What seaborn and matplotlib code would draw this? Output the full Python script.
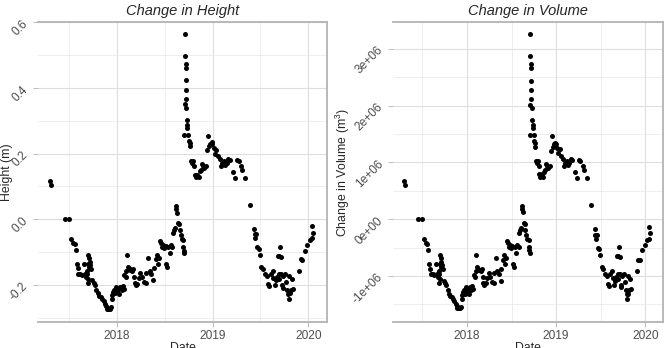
import pandas as pd
import matplotlib
matplotlib.use("Agg")
import matplotlib.pyplot as plt
import seaborn as sns
from matplotlib.ticker import MultipleLocator, FixedLocator

# dates en annees decimales
dates = [
    2017.295, 2017.312, 2017.452, 2017.497, 2017.522, 2017.539, 2017.557, 2017.567, 2017.581, 2017.588,
    2017.595, 2017.616, 2017.637, 2017.651, 2017.661, 2017.679, 2017.689, 2017.696, 2017.700, 2017.707,
    2017.714, 2017.721, 2017.707, 2017.731, 2017.693, 2017.700, 2017.686, 2017.742, 2017.756, 2017.766,
    2017.784, 2017.798, 2017.812, 2017.829, 2017.846, 2017.860, 2017.874, 2017.888, 2017.895, 2017.909,
    2017.923, 2017.937, 2017.951, 2017.944, 2017.958, 2017.972, 2017.979, 2017.993, 2018.000, 2018.014,
    2018.021, 2018.035, 2018.049, 2018.063, 2018.070, 2018.077, 2018.091, 2018.098, 2018.105, 2018.115,
    2018.126, 2018.140, 2018.154, 2018.168, 2018.178, 2018.185, 2018.195, 2018.209, 2018.230, 2018.244,
    2018.258, 2018.279, 2018.300, 2018.307, 2018.325, 2018.342, 2018.360, 2018.377, 2018.384, 2018.405,
    2018.419, 2018.426, 2018.440, 2018.447, 2018.461, 2018.468, 2018.482, 2018.496, 2018.510, 2018.517,
    2018.524, 2018.538, 2018.551, 2018.565, 2018.579, 2018.586, 2018.593, 2018.604, 2018.614, 2018.621,
    2018.628, 2018.639, 2018.649, 2018.656, 2018.667, 2018.677, 2018.691, 2018.691, 2018.698, 2018.702,
    2018.709, 2018.712, 2018.716, 2018.716, 2018.716, 2018.719, 2018.719, 2018.712, 2018.726, 2018.733,
    2018.736, 2018.736, 2018.705, 2018.747, 2018.754, 2018.761, 2018.768, 2018.778, 2018.789, 2018.796,
    2018.803, 2018.813, 2018.824, 2018.838, 2018.852, 2018.866, 2018.873, 2018.887, 2018.901, 2018.914,
    2018.928, 2018.942, 2018.953, 2018.963, 2018.977, 2018.988, 2018.998, 2019.012, 2019.023, 2019.040,
    2019.058, 2019.075, 2019.086, 2019.099, 2019.117, 2019.131, 2019.145, 2019.162, 2019.180, 2019.208,
    2019.232, 2019.257, 2019.271, 2019.298, 2019.312, 2019.340, 2019.389, 2019.431, 2019.438, 2019.452,
    2019.445, 2019.466, 2019.480, 2019.494, 2019.508, 2019.529, 2019.550, 2019.564, 2019.581, 2019.592,
    2019.606, 2019.627, 2019.634, 2019.651, 2019.661, 2019.675, 2019.689, 2019.696, 2019.710, 2019.721,
    2019.731, 2019.738, 2019.686, 2019.696, 2019.703, 2019.714, 2019.756, 2019.766, 2019.780, 2019.791,
    2019.794, 2019.808, 2019.815, 2019.801, 2019.825, 2019.843, 2019.906, 2019.920, 2019.934, 2019.965,
    2019.989, 2020.017, 2020.035, 2020.035, 2020.052,
]

# variation de hauteur (m)
height = [
    0.117, 0.105, 0.0, 0.0, -0.061, -0.073, -0.076, -0.094, -0.137, -0.150,
    -0.167, -0.167, -0.170, -0.137, -0.167, -0.175, -0.167, -0.137, -0.109, -0.119,
    -0.129, -0.140, -0.145, -0.153, -0.194, -0.183, -0.157, -0.186, -0.194, -0.201,
    -0.214, -0.226, -0.234, -0.237, -0.242, -0.249, -0.257, -0.265, -0.272, -0.272,
    -0.272, -0.267, -0.242, -0.231, -0.221, -0.214, -0.226, -0.206, -0.218, -0.211,
    -0.228, -0.206, -0.216, -0.204, -0.211, -0.170, -0.175, -0.157, -0.109, -0.145,
    -0.150, -0.155, -0.157, -0.153, -0.175, -0.194, -0.201, -0.196, -0.180, -0.165,
    -0.175, -0.191, -0.194, -0.163, -0.119, -0.157, -0.167, -0.186, -0.150, -0.122,
    -0.109, -0.135, -0.119, -0.065, -0.073, -0.084, -0.078, -0.089, -0.082, -0.135,
    -0.145, -0.084, -0.104, -0.078, -0.084, -0.043, -0.033, -0.028, 0.031, 0.039,
    0.020, -0.010, -0.014, -0.033, -0.048, -0.061, -0.063, -0.084, -0.096, -0.102,
    0.564, 0.497, 0.472, 0.460, 0.423, 0.393, 0.365, 0.350, 0.339, 0.302,
    0.288, 0.278, 0.258, 0.258, 0.238, 0.222, 0.232, 0.179, 0.171, 0.176,
    0.161, 0.136, 0.130, 0.136, 0.130, 0.146, 0.151, 0.168, 0.161, 0.156,
    0.163, 0.210, 0.253, 0.222, 0.230, 0.234, 0.230, 0.217, 0.200, 0.212,
    0.192, 0.183, 0.161, 0.171, 0.176, 0.166, 0.171, 0.183, 0.181, 0.143,
    0.125, 0.181, 0.176, 0.161, 0.149, 0.125, 0.044, -0.031, -0.046, -0.046,
    -0.058, -0.086, -0.092, -0.109, -0.145, -0.153, -0.167, -0.173, -0.198, -0.204,
    -0.167, -0.157, -0.180, -0.201, -0.186, -0.175, -0.183, -0.167, -0.167, -0.201,
    -0.208, -0.173, -0.112, -0.112, -0.084, -0.114, -0.167, -0.191, -0.216, -0.228,
    -0.242, -0.226, -0.216, -0.173, -0.183, -0.211, -0.157, -0.122, -0.124, -0.096,
    -0.078, -0.063, -0.058, -0.022, -0.043,
]

# variation de volume (millions de m3)
volume_mm3 = [
    0.68, 0.61, 0.0, 0.0, -0.35, -0.42, -0.44, -0.54, -0.79, -0.87,
    -0.97, -0.97, -0.98, -0.79, -0.97, -1.01, -0.97, -0.79, -0.63, -0.69,
    -0.75, -0.81, -0.84, -0.88, -1.12, -1.06, -0.91, -1.08, -1.12, -1.16,
    -1.24, -1.31, -1.35, -1.37, -1.40, -1.44, -1.49, -1.53, -1.57, -1.57,
    -1.57, -1.54, -1.40, -1.34, -1.28, -1.24, -1.31, -1.19, -1.26, -1.22,
    -1.32, -1.19, -1.25, -1.18, -1.22, -0.98, -1.01, -0.91, -0.63, -0.84,
    -0.87, -0.90, -0.91, -0.88, -1.01, -1.12, -1.16, -1.13, -1.04, -0.95,
    -1.01, -1.10, -1.12, -0.94, -0.69, -0.91, -0.97, -1.08, -0.87, -0.71,
    -0.63, -0.78, -0.69, -0.38, -0.42, -0.49, -0.45, -0.51, -0.47, -0.78,
    -0.84, -0.49, -0.60, -0.45, -0.49, -0.25, -0.19, -0.16, 0.18, 0.23,
    0.12, -0.06, -0.08, -0.19, -0.28, -0.35, -0.36, -0.49, -0.55, -0.59,
    3.26, 2.87, 2.73, 2.66, 2.44, 2.27, 2.11, 2.02, 1.96, 1.75,
    1.66, 1.61, 1.49, 1.49, 1.38, 1.28, 1.34, 1.03, 0.99, 1.02,
    0.93, 0.79, 0.75, 0.79, 0.75, 0.84, 0.87, 0.97, 0.93, 0.90,
    0.94, 1.21, 1.46, 1.28, 1.33, 1.35, 1.33, 1.25, 1.16, 1.23,
    1.11, 1.06, 0.93, 0.99, 1.02, 0.96, 0.99, 1.06, 1.05, 0.83,
    0.72, 1.05, 1.02, 0.93, 0.86, 0.72, 0.25, -0.18, -0.27, -0.27,
    -0.34, -0.50, -0.53, -0.63, -0.84, -0.88, -0.97, -1.00, -1.14, -1.18,
    -0.97, -0.91, -1.04, -1.16, -1.08, -1.01, -1.06, -0.97, -0.97, -1.16,
    -1.20, -1.00, -0.65, -0.65, -0.49, -0.66, -0.97, -1.10, -1.25, -1.32,
    -1.40, -1.31, -1.25, -1.00, -1.06, -1.22, -0.91, -0.71, -0.72, -0.55,
    -0.45, -0.36, -0.34, -0.13, -0.25,
]

year_ticks = [2018, 2019, 2020]

df = pd.DataFrame({"date": dates, "height": height,
                   "volume": [v * 1e6 for v in volume_mm3]})

sns.set_theme(style="white")
plt.rcParams["font.family"] = ["Liberation Sans", "DejaVu Sans"]
plt.rcParams["mathtext.fontset"] = "custom"
plt.rcParams["mathtext.rm"] = "Liberation Sans"

W, H = 671, 348
fig = plt.figure(figsize=(W / 100, H / 100), dpi=100)
ax1 = fig.add_axes([38 / W, 26 / H, 289 / W, 300 / H])
ax2 = fig.add_axes([393 / W, 26 / H, 270 / W, 300 / H])

for ax, col, title, ylab, maj, mino in [
    (ax1, "height", "Change in Height", "Height (m)", 0.2, 0.1),
    (ax2, "volume", "Change in Volume", "Change in Volume (m$^3$)", 1e6, 5e5),
]:
    sns.scatterplot(data=df, x="date", y=col, ax=ax, color="black",
                    s=13, linewidth=0, zorder=3)
    ax.set_title(title, fontstyle="italic", fontsize=10.5, pad=5)
    ax.set_xlabel("Date", fontsize=8.8)
    ax.xaxis.set_label_coords(0.5, -0.067)
    ax.xaxis.label.set_va("top")
    ax.set_ylabel(ylab, fontsize=8.8)
    ax.xaxis.set_major_locator(FixedLocator(year_ticks))
    ax.xaxis.set_minor_locator(FixedLocator([2017.5, 2018.5, 2019.5]))
    ax.yaxis.set_major_locator(MultipleLocator(maj))
    ax.yaxis.set_minor_locator(MultipleLocator(mino))
    ax.grid(which="major", color="#dedede", linewidth=0.8)
    ax.grid(which="minor", color="#e8e8e8", linewidth=0.5)
    ax.set_axisbelow(True)
    ax.tick_params(axis="both", which="major", length=3.5, width=0.6,
                   color="#b3b3b3", labelsize=8.6, labelcolor="#4d4d4d", pad=2)
    ax.tick_params(axis="both", which="minor", length=0)
    ax.tick_params(axis="x", bottom=True)
    ax.tick_params(axis="y", left=True)
    for side in ["top", "bottom", "right"]:
        ax.spines[side].set_color("#b3b3b3")
        ax.spines[side].set_linewidth(1.3)
    ax.spines["left"].set_visible(False)
    ax.set_xlim(2017.173, 2020.196)
    ax.set_xticklabels([str(y) for y in year_ticks])

ax1.yaxis.set_label_coords(-0.0865, 0.5)
ax2.yaxis.set_label_coords(-0.152, 0.5)

ax1.set_ylim(-0.313, 0.601)
ax2.set_ylim(-1.81e6, 3.474e6)

yt1 = [-0.2, 0.0, 0.2, 0.4, 0.6]
ax1.set_yticks(yt1)
ax1.set_yticklabels([f"{v:.1f}" for v in yt1], rotation=45)
yt2 = [-1e6, 0, 1e6, 2e6, 3e6]
ax2.set_yticks(yt2)
ax2.set_yticklabels([("0e+00" if v == 0 else f"{v:.0e}") for v in yt2], rotation=45)

fig.savefig("out.png", dpi=100)
